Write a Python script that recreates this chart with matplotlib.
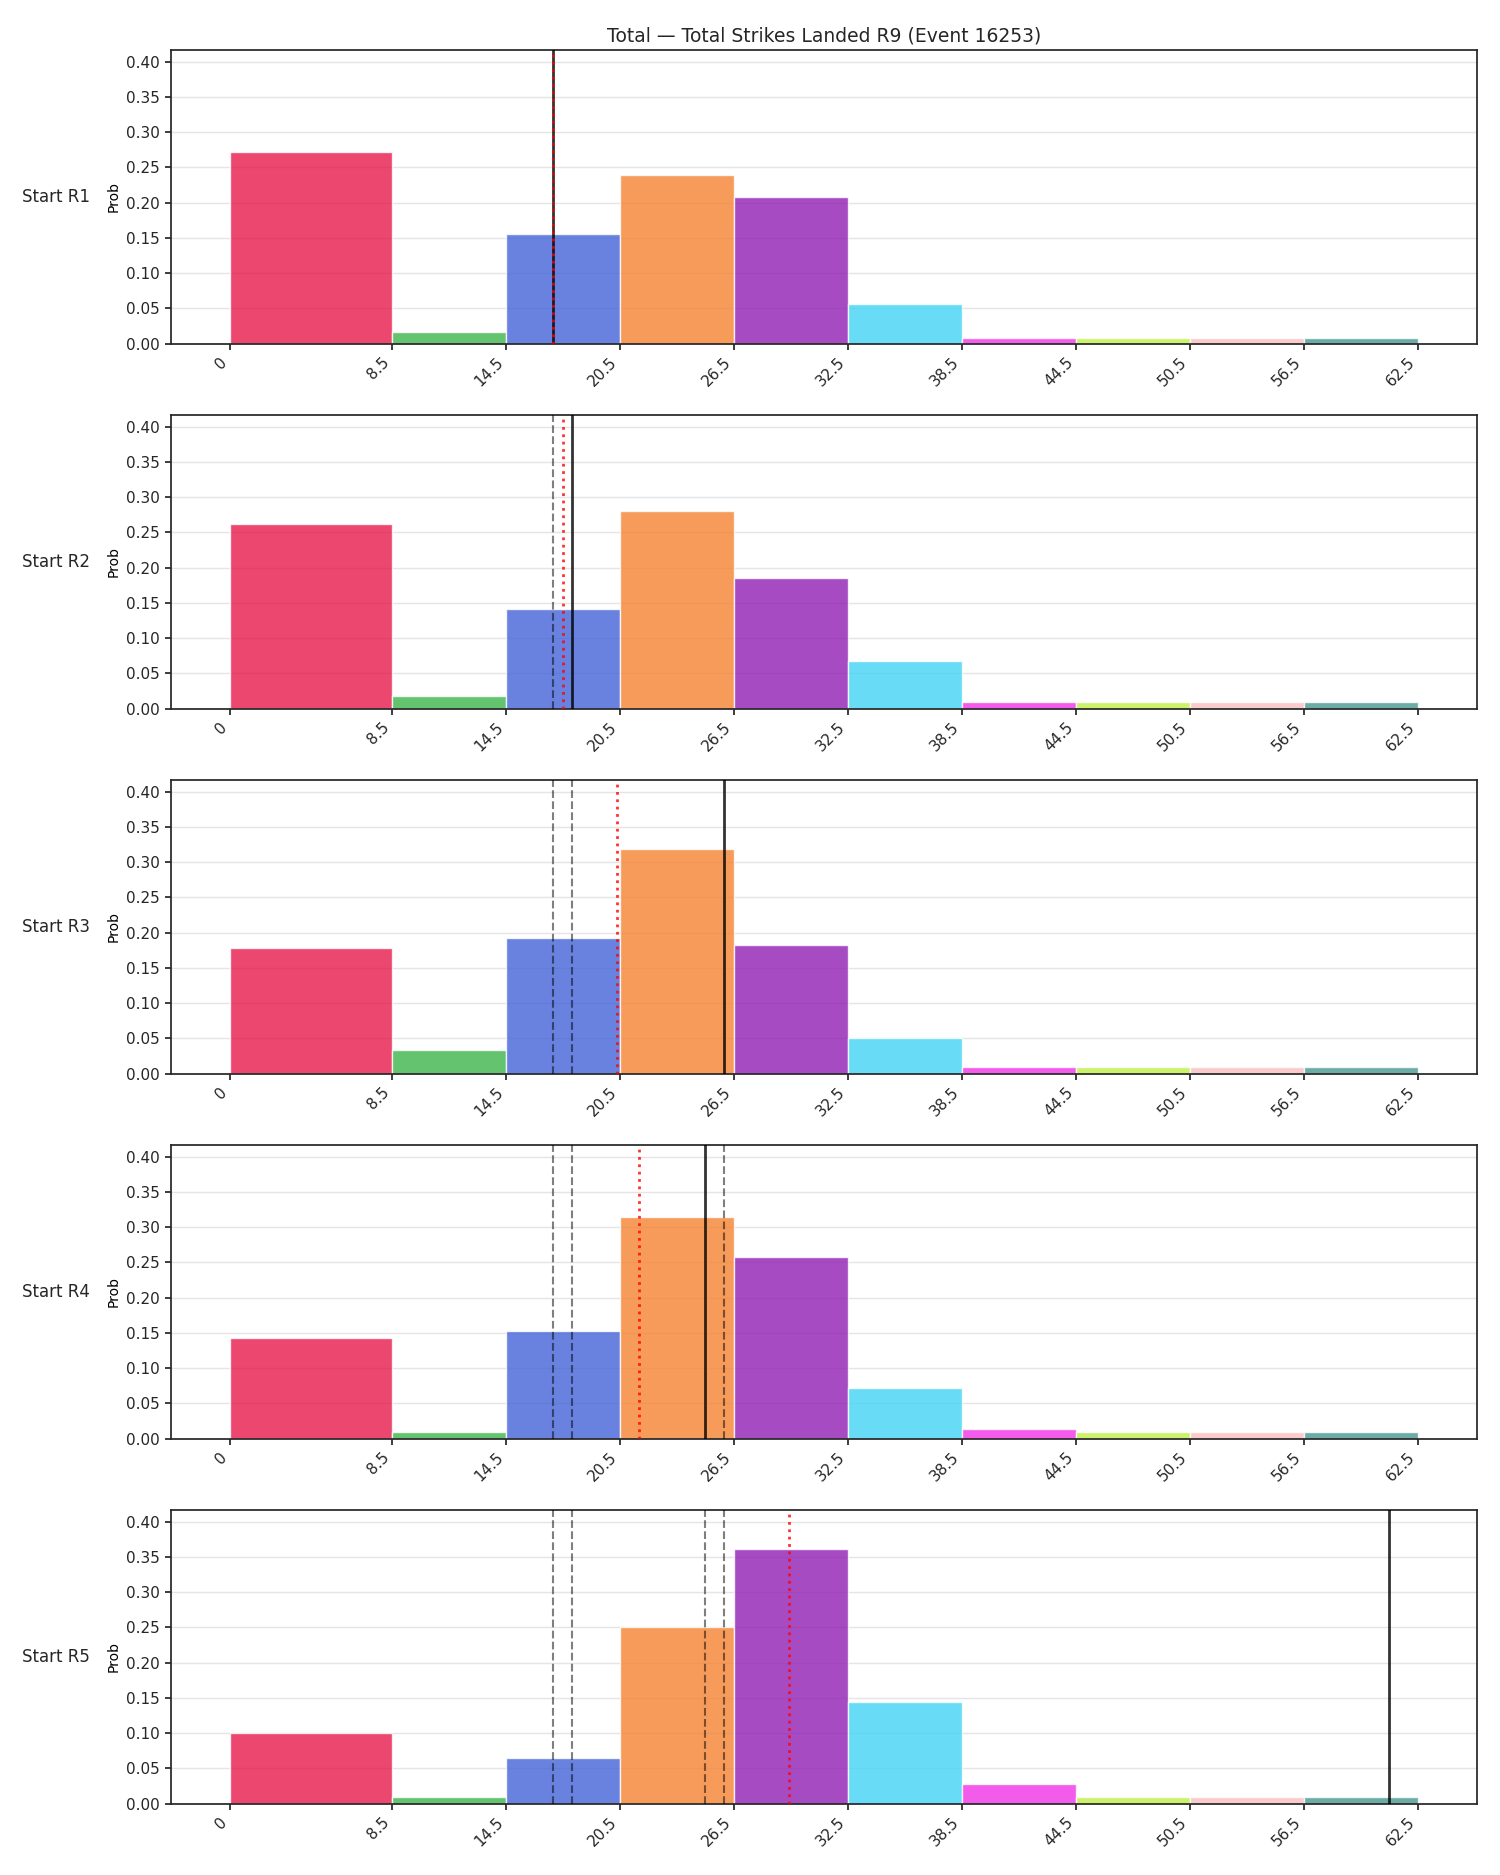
import numpy as np
import matplotlib
matplotlib.use("Agg")
import matplotlib.pyplot as plt

plt.rcParams['font.family'] = ['DejaVu Sans']
plt.rcParams['text.color'] = '#262626'
plt.rcParams['axes.edgecolor'] = '#262626'
plt.rcParams['axes.linewidth'] = 1.25
plt.rcParams['xtick.color'] = '#262626'
plt.rcParams['ytick.color'] = '#262626'
plt.rcParams['xtick.labelsize'] = 11
plt.rcParams['ytick.labelsize'] = 11
plt.rcParams['xtick.major.width'] = 1.25
plt.rcParams['ytick.major.width'] = 1.25
plt.rcParams['xtick.major.size'] = 4.5
plt.rcParams['ytick.major.size'] = 4.5

# bin edges and labels
edges = [0, 8.5, 14.5, 20.5, 26.5, 32.5, 38.5, 44.5, 50.5, 56.5, 62.5]
edge_labels = ["0", "8.5", "14.5", "20.5", "26.5", "32.5", "38.5", "44.5", "50.5", "56.5", "62.5"]
bin_colors = ['#e6194b', '#3cb44b', '#4363d8', '#f58231', '#911eb4',
              '#42d4f4', '#f032e6', '#bfef45', '#fabebe', '#469990']

row_names = ["Start R1", "Start R2", "Start R3", "Start R4", "Start R5"]

# probabilities per row
prob_r1 = [0.272, 0.017, 0.156, 0.239, 0.208, 0.057, 0.008, 0.008, 0.008, 0.008]
prob_r2 = [0.262, 0.018, 0.141, 0.281, 0.185, 0.068, 0.009, 0.009, 0.009, 0.009]
prob_r3 = [0.178, 0.033, 0.192, 0.319, 0.182, 0.050, 0.009, 0.009, 0.009, 0.009]
prob_r4 = [0.143, 0.009, 0.153, 0.314, 0.258, 0.072, 0.014, 0.009, 0.009, 0.009]
prob_r5 = [0.101, 0.009, 0.065, 0.251, 0.361, 0.145, 0.028, 0.009, 0.009, 0.009]
probs = [prob_r1, prob_r2, prob_r3, prob_r4, prob_r5]

# lines: current value per row, running average
line_vals = [17.0, 18.0, 26.0, 25.0, 61.0]
avg_vals = [17.0, 17.5, 20.33, 21.5, 29.4]

ymax = 0.417

fig, axes = plt.subplots(5, 1, figsize=(15, 18.75), dpi=100)
fig.subplots_adjust(left=0.114, right=0.9847, top=0.9735, bottom=0.038, hspace=0.2415)

widths = np.diff(edges)
for i, ax in enumerate(axes):
    ax.bar(edges[:-1], probs[i], width=widths, align='edge', color=bin_colors,
           alpha=0.8, edgecolor='white', linewidth=1, zorder=2)
    ax.set_axisbelow(True)
    ax.grid(axis='y', color='#e5e5e5', linewidth=1, zorder=0)
    # previous rounds
    for v in line_vals[:i]:
        ax.axvline(v, color='k', linestyle='--', linewidth=1.5, alpha=0.5, zorder=3)
    ax.axvline(line_vals[i], color='k', linewidth=2, alpha=0.8, zorder=4)
    ax.axvline(avg_vals[i], color='red', linestyle=':', linewidth=2, alpha=0.8, zorder=5)
    ax.set_ylim(0, ymax)
    ax.set_xticks(edges)
    ax.set_xticklabels(edge_labels, rotation=45, ha='right')
    ax.set_ylabel("Prob")
    ax.text(-0.062, 0.5, row_names[i], transform=ax.transAxes, ha='right', va='center', fontsize=12)

axes[0].set_title("Total \u2014 Total Strikes Landed R9 (Event 16253)", fontsize=13.5)

plt.savefig("out.png", dpi=100)
